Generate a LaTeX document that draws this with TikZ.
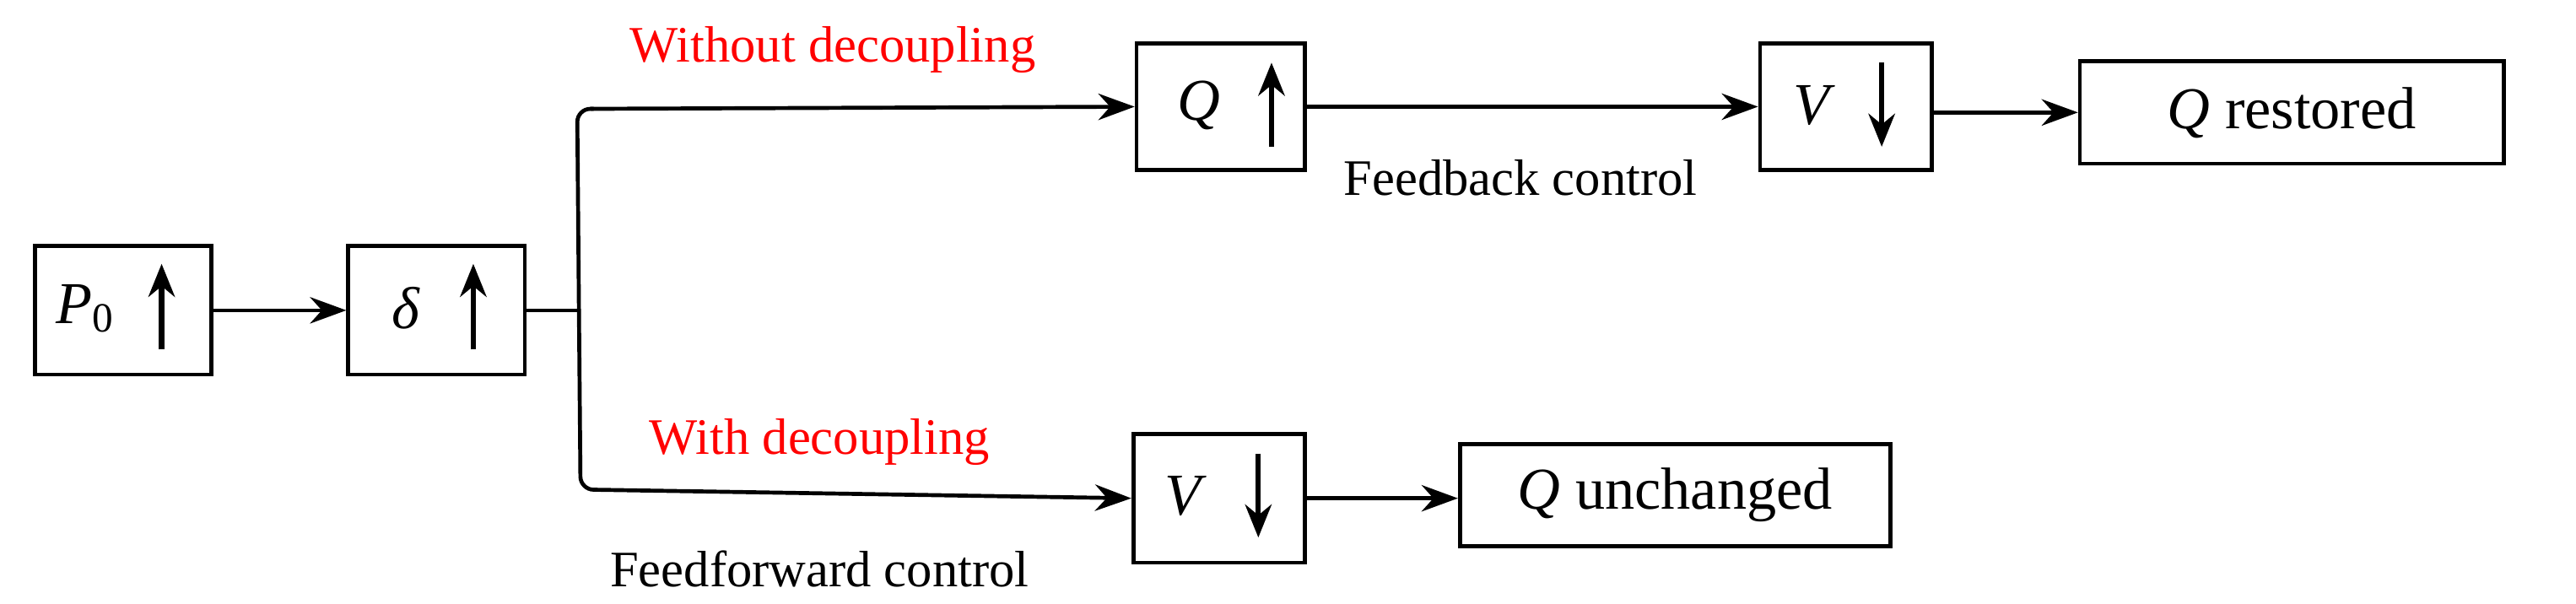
\documentclass[tikz,border=0pt]{standalone}
\usepackage{fontspec}
\setmainfont{Liberation Serif}
\usetikzlibrary{arrows.meta}
\begin{document}
\begin{tikzpicture}[x=0.5pt,y=-0.5pt,
  box/.style={draw,line width=1.2pt,inner sep=0pt,anchor=north west},
  con/.style={line width=1.2pt,-{Stealth[length=11pt,width=8pt]}},
  tip/.style={line width=1.6pt,-{Stealth[length=10pt,width=8pt]}},
  lab/.style={font=\fontsize{15.5}{18}\selectfont},
  red/.style={text=red},
  big/.style={font=\fontsize{18}{22}\selectfont}]
\useasboundingbox (0,0) rectangle (1562,366);
% boxes
\node[box,minimum width=107*0.5pt,minimum height=78*0.5pt] (p) at (20,148) {};
\node[box,minimum width=107*0.5pt,minimum height=78*0.5pt] (d) at (210,148) {};
\node[box,minimum width=102*0.5pt,minimum height=77*0.5pt] (q) at (688,25) {};
\node[box,minimum width=104*0.5pt,minimum height=77*0.5pt] (v1) at (1066,25) {};
\node[box,minimum width=257*0.5pt,minimum height=62*0.5pt,big] (qr) at (1260,36) {\textit{Q} restored};
\node[box,minimum width=104*0.5pt,minimum height=78*0.5pt] (v2) at (686,262) {};
\node[box,minimum width=261*0.5pt,minimum height=62*0.5pt,big] (qu) at (884,268) {\textit{Q} unchanged};
% box contents
\node[big] (tp) at (52,187) {\textit{P}\textsubscript{0}};
\draw[tip] (98,212) -- (98,160);
\node[big] (td) at (246,187) {\textit{δ}};
\draw[tip] (287,212) -- (287,160);
\node[big] (tq) at (727,64) {\textit{Q}};
\draw[tip] (771,89) -- (771,38);
\node[big] (tv1) at (1100,64) {\textit{V}};
\draw[tip] (1141,38) -- (1141,89);
\node[big] (tv2) at (719,301) {\textit{V}};
\draw[tip] (763,275) -- (763,326);
% connectors
\coordinate (j) at (350,187);
\coordinate (jt) at (350,66);
\coordinate (jb) at (352,297);
\draw[con] (p.east) -- (d.west);
\draw[line width=1.2pt] (d.east) -- (d.east -| j);
\draw[line width=1.2pt,rounded corners=4pt] (360,66) -- (jt) -- (jb) -- (362,297);
\draw[con] (358,66) -- (q.west);
\draw[con] (360,297) -- (v2.west);
\draw[con] (q.east) -- (q.east -| v1.west);
\draw[con] (v1.east |- qr.west) -- (qr.west);
\draw[con] (v2.east) -- (v2.east -| qu.west);
% labels
\node[lab,red] (l1) at (505,30) {Without decoupling};
\node[lab] (l2) at (922,108) {Feedback control};
\node[lab,red] (l3) at (497,268) {With decoupling};
\node[lab] (l4) at (497,345) {Feedforward control};
\end{tikzpicture}
\end{document}
